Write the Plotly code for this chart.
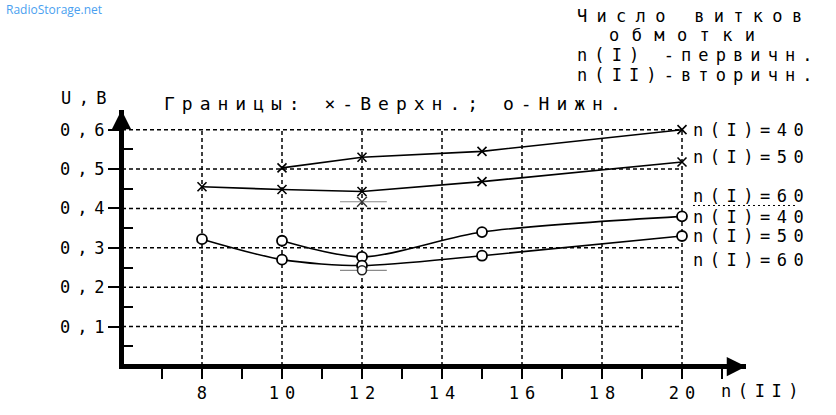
import json
import plotly.graph_objects as go

# ---------------- data ----------------
# upper bounds (x markers)
X_UP40 = [10, 12, 15, 20]
U_UP40 = [0.503, 0.530, 0.545, 0.600]
X_UP50 = [8, 10, 12, 15, 20]
U_UP50 = [0.455, 0.448, 0.443, 0.468, 0.518]
# lower bounds (o markers)
X_LO40 = [10, 12, 15, 20]
U_LO40 = [0.318, 0.277, 0.340, 0.380]
X_LO50 = [8, 10, 12, 15, 20]
U_LO50 = [0.322, 0.270, 0.255, 0.280, 0.330]
# n(I)=60 : single measurement at n(II)=12
X_N60 = [12]
U_N60_UP = [0.417]
U_N60_LO = [0.243]
N60_SPREAD_MINUS = [0.55]
N60_SPREAD_PLUS = [0.62]

Y_TICKS = [0.1, 0.2, 0.3, 0.4, 0.5, 0.6]
Y_TICK_TEXT = ["0,1", "0,2", "0,3", "0,4", "0,5", "0,6"]
Y_MINOR = [0.05, 0.15, 0.25, 0.35, 0.45, 0.55]
X_TICKS = [8, 10, 12, 14, 16, 18, 20]
X_TICK_TEXT = ["8", "10", "12", "14", "16", "18", "20"]
X_MINOR = [7, 9, 11, 13, 15, 17, 19, 21]

LABEL_TEXT = ["n(I)=40", "n(I)=50", "n(I)=60", "n(I)=40", "n(I)=50", "n(I)=60"]
LABEL_U = [0.600, 0.530, 0.4325, 0.378, 0.330, 0.270]

TITLE = "Границы: ×-Верхн.; o-Нижн."
CORNER_LINES = ["Число витков", "обмотки", "n(I) -первичн.", "n(II)-вторичн."]
Y_TITLE = "U,B"
X_TITLE = "n(II)"
WATERMARK = "RadioStorage.net"

# ---------------- layout geometry ----------------
W_PX, H_PX = 836, 415
L, R_EDGE = 124, 746
T, B = 110, 368
X_RANGE = [6.05, 21.6]
Y_RANGE = [0.005, 0.65]
PW, PH = R_EDGE - L, B - T

def pxx(p):
    return (p - L) / PW

def pxy(p):
    return (B - p) / PH

FONT = "DejaVu Sans Mono"
BLACK = "#000000"

fig = go.Figure()

line_style = dict(color=BLACK, width=1.6)
cross = dict(symbol="x-thin", size=9, color=BLACK, line=dict(width=1.6, color=BLACK))
ring = dict(symbol="circle", size=10, color="white", line=dict(width=1.8, color=BLACK))

fig.add_trace(go.Scatter(x=X_UP40, y=U_UP40, mode="lines+markers", line=line_style,
                         marker=cross, name="upper n(I)=40"))
fig.add_trace(go.Scatter(x=X_UP50, y=U_UP50, mode="lines+markers", line=line_style,
                         marker=cross, name="upper n(I)=50"))
fig.add_trace(go.Scatter(x=X_LO40, y=U_LO40, mode="lines+markers",
                         line=dict(color=BLACK, width=1.6, shape="spline", smoothing=0.8),
                         marker=ring, name="lower n(I)=40"))
fig.add_trace(go.Scatter(x=X_LO50, y=U_LO50, mode="lines+markers",
                         line=dict(color=BLACK, width=1.6, shape="spline", smoothing=0.8),
                         marker=ring, name="lower n(I)=50"))
spread = dict(type="data", symmetric=False, array=N60_SPREAD_PLUS, arrayminus=N60_SPREAD_MINUS,
              color="#8a8a8a", thickness=1.2, width=0)
fig.add_trace(go.Scatter(x=X_N60, y=U_N60_UP, mode="markers", error_x=spread,
                         marker=dict(symbol="x-thin", size=10, color="#333",
                                     line=dict(width=1.4, color="#333")), name="upper n(I)=60"))
fig.add_trace(go.Scatter(x=X_N60, y=U_N60_LO, mode="markers", error_x=spread,
                         marker=dict(symbol="circle", size=9, color="white",
                                     line=dict(width=1.6, color="#222")), name="lower n(I)=60"))

# dotted grid limited to the tick extents
shapes = []
grid = dict(color=BLACK, width=1.5, dash="4px,3px")
for v in Y_TICKS:
    shapes.append(dict(type="line", xref="x", yref="y", x0=6, x1=X_TICKS[-1], y0=v, y1=v,
                       line=grid, layer="below"))
for v in X_TICKS:
    shapes.append(dict(type="line", xref="x", yref="y", x0=v, x1=v, y0=0, y1=Y_TICKS[-1],
                       line=grid, layer="below"))
# dotted underline of the dashed n(I)=60 label
shapes.append(dict(type="line", xref="paper", yref="paper", x0=pxx(693), x1=pxx(795),
                   y0=pxy(207), y1=pxy(207), line=dict(color=BLACK, width=1, dash="2px,3px")))

annotations = []
spacing = []

def text_ann(txt, x, y, size, sp, xref="paper", yref="paper", color=BLACK, family=FONT, xshift=0):
    annotations.append(dict(text=txt, x=x, y=y, xref=xref, yref=yref, xanchor="left",
                            yanchor="middle", align="left", showarrow=False, xshift=xshift,
                            font=dict(family=family, size=size, color=color)))
    spacing.append(sp)

text_ann(WATERMARK, pxx(4), pxy(8), 12, 0, color="#4a9ff0", family="Open Sans")
corner_left = [575, 607, 575, 575]
corner_y = [15, 34, 54, 74]
corner_sp = [9.3, 12.4, 7.1, 7.1]
for txt, lx, cy, sp in zip(CORNER_LINES, corner_left, corner_y, corner_sp):
    text_ann(txt, pxx(lx), pxy(cy), 17, sp)
text_ann(TITLE, pxx(162), pxy(103), 18, 7.0)
text_ann(Y_TITLE, pxx(59), pxy(98), 17, 7.4)
text_ann(X_TITLE, pxx(719), pxy(395), 17, 6.6)
for txt, u in zip(LABEL_TEXT, LABEL_U):
    text_ann(txt, X_TICKS[-1], u, 17, 6.5, xref="x", yref="y", xshift=9)

# axis arrows
annotations.append(dict(x=1, y=0, xref="paper", yref="paper", ax=-16, ay=0, text="",
                        showarrow=True, arrowhead=2, arrowsize=1.1, arrowwidth=3.5,
                        arrowcolor=BLACK, xshift=0, yshift=-2.5))
spacing.append(0)
annotations.append(dict(x=0, y=1, xref="paper", yref="paper", ax=0, ay=16, text="",
                        showarrow=True, arrowhead=2, arrowsize=1.1, arrowwidth=3.5,
                        arrowcolor=BLACK, xshift=-2.5))
spacing.append(0)

fig.update_layout(
    width=W_PX, height=H_PX,
    margin=dict(l=L, r=W_PX - R_EDGE, t=T, b=H_PX - B, pad=0),
    paper_bgcolor="white", plot_bgcolor="white",
    showlegend=False,
    shapes=shapes, annotations=annotations,
    font=dict(family=FONT, size=17, color=BLACK),
)
fig.update_xaxes(range=X_RANGE, showgrid=False, zeroline=False,
                 showline=True, linewidth=5, linecolor=BLACK,
                 tickmode="array", tickvals=X_TICKS, ticktext=X_TICK_TEXT,
                 ticks="outside", ticklen=10, tickwidth=2, tickcolor=BLACK,
                 tickfont=dict(family=FONT, size=17, color=BLACK),
                 minor=dict(tickvals=X_MINOR, ticks="outside", ticklen=10, tickwidth=2,
                            tickcolor=BLACK, showgrid=False))
fig.update_yaxes(range=Y_RANGE, showgrid=False, zeroline=False,
                 showline=True, linewidth=5, linecolor=BLACK,
                 tickmode="array", tickvals=Y_TICKS, ticktext=Y_TICK_TEXT,
                 ticks="outside", ticklen=11, tickwidth=2, tickcolor=BLACK,
                 tickfont=dict(family=FONT, size=17, color=BLACK),
                 minor=dict(tickvals=Y_MINOR, ticks="inside", ticklen=9, tickwidth=2,
                            tickcolor=BLACK, showgrid=False))

post = """
document.body.style.margin = '0';
var gd = document.getElementById('{plot_id}');
var SP = %s;
gd.querySelectorAll('g.annotation').forEach(function(g){
  var i = +g.getAttribute('data-index');
  var s = SP[i];
  if (s) { g.querySelectorAll('text').forEach(function(t){ t.style.letterSpacing = s + 'px'; }); }
});
function spaceTicks(sel, s, shift){
  gd.querySelectorAll(sel).forEach(function(t){
    t.style.letterSpacing = s + 'px';
    var x = parseFloat(t.getAttribute('x') || '0');
    t.setAttribute('x', x + shift);
  });
}
spaceTicks('.xtick text', 5.9, 2.9);
spaceTicks('.ytick text', 6.9, 6.9);
""" % json.dumps(spacing)

fig.write_html("out.html", post_script=post, config={"displayModeBar": False})
